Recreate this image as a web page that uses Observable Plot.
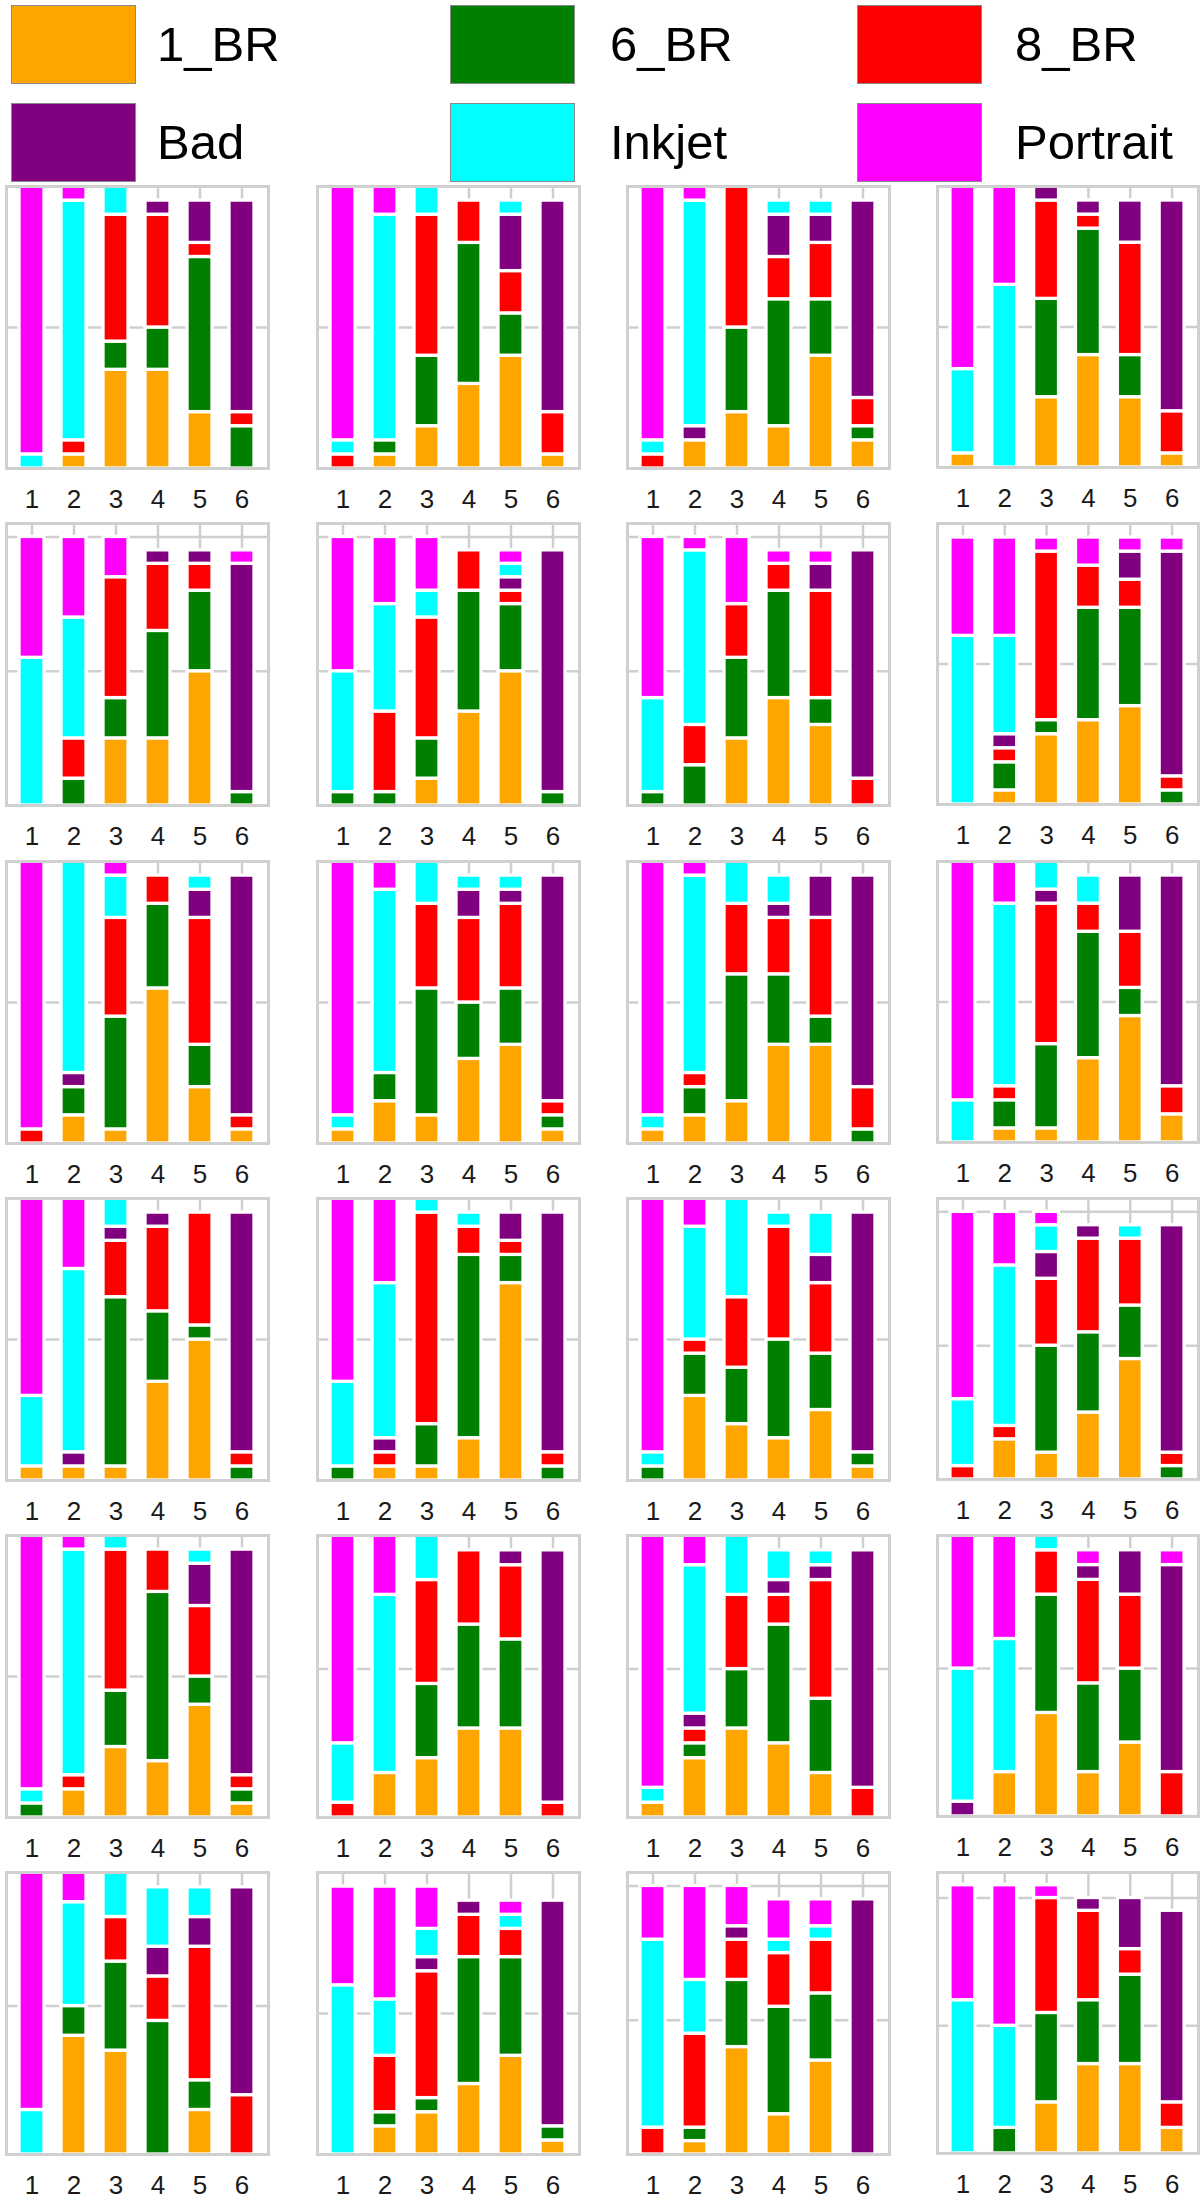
<!DOCTYPE html>
<html><head><meta charset="utf-8">
<script src="https://cdn.jsdelivr.net/npm/d3@7"></script>
<script src="https://cdn.jsdelivr.net/npm/@observablehq/plot@0.6"></script>
<style>
body{margin:0;background:#fff;font-family:"Liberation Sans",Arial,sans-serif;}
#root{position:relative;width:1200px;height:2202px;overflow:hidden;background:#fff;}
.sw{position:absolute;box-sizing:border-box;border:1.5px solid #8a8a8a;}
.lt{position:absolute;font-size:49px;line-height:1;color:#000;white-space:nowrap;}
.panel{position:absolute;}
</style></head><body><div id="root"></div>
<script>
// categories (stack order, bottom to top) and colours
const classes = ["1_BR", "6_BR", "8_BR", "Bad", "Inkjet", "Portrait"];
const colors = ["#FFA500", "#008000", "#FF0000", "#800080", "#00FFFF", "#FF00FF"];
const xLabels = [1, 2, 3, 4, 5, 6];

// counts per panel: one row per bar (x = 1..6), columns in class order
const p01 = [[0,0,0,0,1,19],[1,0,1,0,17,1],[7,2,9,0,2,0],[7,3,8,1,0,0],[4,11,1,3,0,0],[0,3,1,15,0,0]];
const p02 = [[0,0,1,0,1,18],[1,1,0,0,16,2],[3,5,10,0,2,0],[6,10,3,0,0,0],[8,3,3,4,1,0],[1,0,3,15,0,0]];
const p03 = [[0,0,1,0,1,18],[2,0,0,1,16,1],[4,6,10,0,0,0],[3,9,3,3,1,0],[8,4,4,2,1,0],[2,1,2,14,0,0]];
const p04 = [[1,0,0,0,6,13],[0,0,0,0,13,7],[5,7,7,1,0,0],[8,9,1,1,0,0],[5,3,8,3,0,0],[1,0,3,15,0,0]];
const p05 = [[0,0,0,0,11,9],[0,2,3,0,9,6],[5,3,9,0,0,3],[5,8,5,1,0,0],[10,6,2,1,0,0],[0,1,0,17,0,1]];
const p06 = [[0,1,0,0,9,10],[0,1,6,0,8,5],[2,3,9,0,2,4],[7,9,3,0,0,0],[10,5,1,1,1,1],[0,1,0,18,0,0]];
const p07 = [[0,1,0,0,7,12],[0,3,3,0,13,1],[5,6,4,0,0,5],[8,8,2,0,0,1],[6,2,8,2,0,1],[0,0,2,17,0,0]];
const p08 = [[0,0,0,0,12,7],[1,2,1,1,7,7],[5,1,12,0,0,1],[6,8,3,0,0,2],[7,7,2,2,0,1],[0,1,1,16,0,1]];
const p09 = [[0,0,1,0,0,19],[2,2,0,1,15,0],[1,8,7,0,3,1],[11,6,2,0,0,0],[4,3,9,2,1,0],[1,0,1,17,0,0]];
const p10 = [[1,0,0,0,1,18],[3,2,0,0,13,2],[2,9,6,0,3,0],[6,4,6,2,1,0],[7,4,6,1,1,0],[1,1,1,16,0,0]];
const p11 = [[1,0,0,0,1,18],[2,2,1,0,14,1],[3,9,5,0,3,0],[7,5,4,1,2,0],[7,2,7,3,0,0],[0,1,3,15,0,0]];
const p12 = [[0,0,0,0,3,17],[1,2,1,0,13,3],[1,6,10,1,2,0],[6,9,2,0,2,0],[9,2,4,4,0,0],[2,0,2,15,0,0]];
const p13 = [[1,0,0,0,5,14],[1,0,0,1,13,5],[1,12,4,1,2,0],[7,5,6,1,0,0],[10,1,8,0,0,0],[0,1,1,17,0,0]];
const p14 = [[0,1,0,0,6,13],[1,0,1,1,11,6],[1,3,15,0,1,0],[3,13,2,0,1,0],[14,2,1,2,0,0],[0,1,1,17,0,0]];
const p15 = [[0,1,0,0,1,18],[6,3,1,0,8,2],[4,4,5,0,7,0],[3,7,8,0,1,0],[5,4,5,2,3,0],[1,1,0,17,0,0]];
const p16 = [[0,0,1,0,5,14],[3,0,1,0,12,4],[2,8,5,2,2,1],[5,6,7,1,0,0],[9,4,5,0,1,0],[0,1,1,17,0,0]];
const p17 = [[0,1,0,0,1,18],[2,0,1,0,16,1],[5,4,10,0,1,0],[4,12,3,0,0,0],[8,2,5,3,1,0],[1,1,1,16,0,0]];
const p18 = [[0,0,1,0,4,14],[3,0,0,0,12,4],[4,5,7,0,3,0],[6,7,5,0,0,0],[6,6,5,1,0,0],[0,0,1,17,0,0]];
const p19 = [[1,0,0,0,1,17],[4,1,1,1,10,2],[6,4,5,0,4,0],[5,8,2,1,2,0],[3,5,8,1,1,0],[0,0,2,16,0,0]];
const p20 = [[0,0,0,1,9,9],[3,0,0,0,9,7],[7,8,3,0,1,0],[3,6,7,1,0,1],[5,5,5,3,0,0],[0,0,3,14,0,1]];
const p21 = [[0,0,0,0,3,16],[8,2,0,0,7,2],[7,6,3,0,3,0],[0,9,3,2,4,0],[3,2,9,2,2,0],[0,0,4,14,0,0]];
const p22 = [[0,0,0,0,12,7],[2,1,4,0,4,8],[3,1,9,1,2,3],[5,9,3,1,0,0],[7,7,2,0,1,1],[1,1,0,16,0,0]];
const p23 = [[0,0,2,0,14,4],[1,1,7,0,4,7],[8,5,3,1,0,3],[3,8,4,0,1,3],[7,5,4,0,1,2],[0,0,0,19,0,0]];
const p24 = [[0,0,0,0,12,9],[0,2,0,0,8,11],[4,7,9,0,0,1],[7,5,7,1,0,0],[7,7,2,4,0,0],[2,0,2,15,0,0]];

// y-axis upper limit of each panel (reading order)
const yMax = [20,20,20,20, 21,21,21,20, 20,20,20,20, 20,20,20,21, 20,19,19,19, 19,20,21,22];
const gridValues = [10, 20];

const panels = [p01,p02,p03,p04,p05,p06,p07,p08,p09,p10,p11,p12,p13,p14,p15,p16,p17,p18,p19,p20,p21,p22,p23,p24];

const root = document.getElementById("root");

// legend
const legendCols = [[11, 157], [450, 610], [857, 1015]];
const legendRows = [[5, 84], [103, 182]];
classes.forEach((c, i) => {
  const r = Math.floor(i / 3), k = i % 3;
  const sw = document.createElement("div");
  sw.className = "sw";
  sw.style.left = legendCols[k][0] + "px";
  sw.style.top = legendRows[r][0] + "px";
  sw.style.width = "125px";
  sw.style.height = (legendRows[r][1] - legendRows[r][0]) + "px";
  sw.style.background = colors[i];
  root.appendChild(sw);
  const t = document.createElement("div");
  t.className = "lt";
  t.textContent = c;
  t.style.left = legendCols[k][1] + "px";
  t.style.top = ((legendRows[r][0] + legendRows[r][1]) / 2 - 25) + "px";
  root.appendChild(t);
});

// panels
const colLeft = [6, 317, 627, 937];
const rowTop = [186, 523, 861, 1198, 1535, 1872];
const pw = 262, ph = 282, m = 2, mb = 54;

panels.forEach((panel, p) => {
  const D = yMax[p];
  const rows = [];
  panel.forEach((bar, i) => bar.forEach((v, k) => {
    if (v > 0) rows.push({x: xLabels[i], cls: classes[k], v});
  }));
  const svg = Plot.plot({
    width: pw + 2 * m, height: ph + m + mb,
    marginLeft: m, marginRight: m, marginTop: m, marginBottom: mb,
    x: {type: "band", domain: xLabels, paddingInner: 0.4, paddingOuter: 0.3, label: null},
    y: {domain: [0, D], axis: null},
    color: {domain: classes, range: colors},
    style: {background: "transparent", color: "#1a1a1a", fontFamily: "'Liberation Sans', Arial, sans-serif"},
    marks: [
      Plot.gridX({stroke: "#cfcfcf", strokeOpacity: 1, strokeWidth: 2.5}),
      Plot.gridY({ticks: gridValues.filter(t => t <= D), stroke: "#cfcfcf", strokeOpacity: 1, strokeWidth: 2.5}),
      Plot.barY(rows, {x: "x", y: "v", fill: "cls", stroke: "white", strokeWidth: 3.3}),
      Plot.frame({stroke: "#d0d0d0", strokeWidth: 3}),
      Plot.axisX({tickSize: 0, tickPadding: 21, fontSize: 26, label: null})
    ]
  });
  const wrap = document.createElement("div");
  wrap.className = "panel";
  wrap.style.left = (colLeft[p % 4] - m) + "px";
  wrap.style.top = (rowTop[Math.floor(p / 4)] - m) + "px";
  wrap.appendChild(svg);
  root.appendChild(wrap);
});
</script>
</body></html>
